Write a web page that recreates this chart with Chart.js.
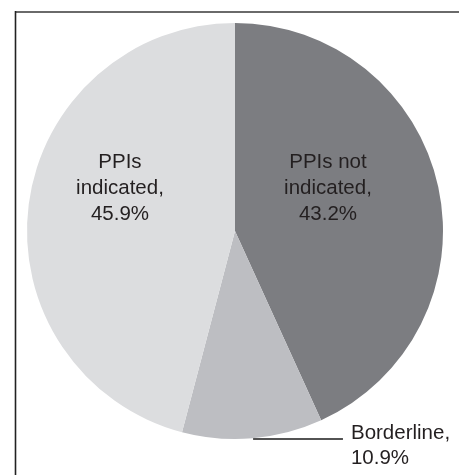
<!DOCTYPE html>
<html>
<head>
<meta charset="utf-8">
<script src="https://cdn.jsdelivr.net/npm/chart.js@4.4.1/dist/chart.umd.min.js"></script>
<style>
html,body{margin:0;padding:0;background:#fff;}
#wrap{width:459px;height:475px;position:relative;}
</style>
</head>
<body>
<div id="wrap"><canvas id="c" width="459" height="475"></canvas></div>
<script>
const categories = ["PPIs not indicated", "Borderline", "PPIs indicated"];
const values = [43.2, 10.9, 45.9];
const labelLines = [["PPIs not", "indicated,", "43.2%"], ["Borderline,", "10.9%"], ["PPIs", "indicated,", "45.9%"]];
const colors = ["#7c7d81", "#bdbec2", "#dcdddf"];

const FONT = '20.5px "Liberation Sans", Arial, sans-serif';
const TEXT = '#231f20';

const framePlugin = {
  id: 'frame',
  beforeDraw(chart) {
    const ctx = chart.ctx;
    ctx.save();
    ctx.strokeStyle = '#6a6a6a';
    ctx.lineWidth = 2;
    ctx.beginPath();
    ctx.moveTo(15, 12);
    ctx.lineTo(459, 12);
    ctx.stroke();
    ctx.strokeStyle = '#222';
    ctx.lineWidth = 1.6;
    ctx.beginPath();
    ctx.moveTo(15.5, 11);
    ctx.lineTo(15.5, 475);
    ctx.stroke();
    ctx.restore();
  }
};

const labelPlugin = {
  id: 'sliceLabels',
  afterDatasetsDraw(chart) {
    const ctx = chart.ctx;
    const meta = chart.getDatasetMeta(0);
    const arc0 = meta.data[0];
    const cx = arc0.x, cy = arc0.y, r = arc0.outerRadius;
    ctx.save();
    ctx.font = FONT;
    ctx.fillStyle = TEXT;
    ctx.textBaseline = 'alphabetic';
    const lh = 26;
    const inside = {0: [0.447, -0.212], 2: [-0.553, -0.212]};
    [0, 2].forEach(i => {
      const [fx, fy] = inside[i];
      const x = cx + fx * r;
      const midBase = cy + fy * r + 7;
      ctx.textAlign = 'center';
      labelLines[i].forEach((t, k) => {
        ctx.fillText(t, x, midBase + (k - 1) * lh);
      });
    });
    const y0 = cy + r;
    const xs = cx + 0.087 * r;
    const xe = cx + 0.519 * r;
    ctx.strokeStyle = '#1a1a1a';
    ctx.lineWidth = 1.6;
    ctx.beginPath();
    ctx.moveTo(xs, y0);
    ctx.lineTo(xe, y0);
    ctx.stroke();
    ctx.textAlign = 'left';
    labelLines[1].forEach((t, k) => {
      ctx.fillText(t, xe + 8, y0 + k * 25);
    });
    ctx.restore();
  }
};

new Chart(document.getElementById('c'), {
  type: 'pie',
  data: {
    labels: categories,
    datasets: [{
      data: values,
      backgroundColor: colors,
      borderWidth: 0
    }]
  },
  options: {
    responsive: false,
    animation: false,
    layout: {padding: {left: 27, right: 16, top: 23, bottom: 36}},
    plugins: {legend: {display: false}, tooltip: {enabled: false}}
  },
  plugins: [framePlugin, labelPlugin]
});
</script>
</body>
</html>
